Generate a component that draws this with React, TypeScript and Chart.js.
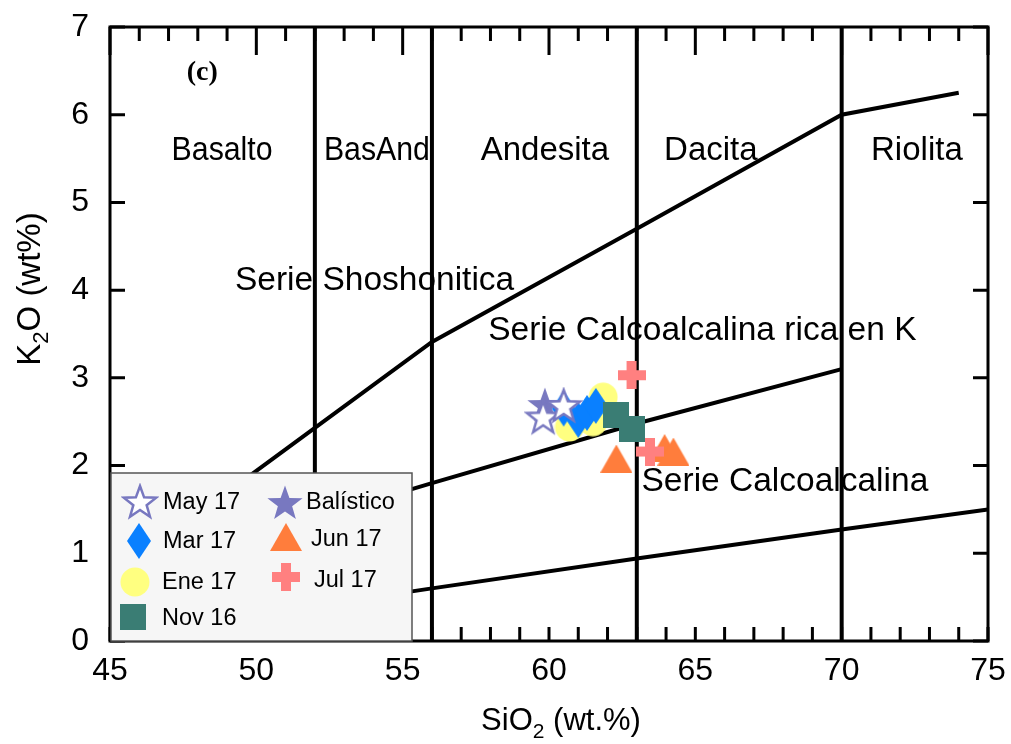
import React, { useEffect, useRef } from "react";
import { Chart, registerables } from "chart.js";

Chart.register(...registerables);

// ---------------- data ----------------
const seriesNames = ["May 17", "Mar 17", "Ene 17", "Nov 16", "Balístico", "Jun 17", "Jul 17"];

const may17SiO2 = [59.8, 60.5];
const may17K2O = [2.55, 2.68];
const mar17SiO2 = [60.5, 61.0, 61.3, 61.6];
const mar17K2O = [2.65, 2.52, 2.6, 2.68];
const ene17SiO2 = [61.85, 60.7, 61.5];
const ene17K2O = [2.78, 2.44, 2.5];
const nov16SiO2 = [62.3, 62.85];
const nov16K2O = [2.58, 2.42];
const balisticoSiO2 = [59.86];
const balisticoK2O = [2.69];
const jun17SiO2 = [62.3, 63.95, 64.25];
const jun17K2O = [2.08, 2.2, 2.16];
const jul17SiO2 = [62.82, 63.45];
const jul17K2O = [3.03, 2.16];

// classification boundaries
const shoshoniticSiO2 = [48, 52, 56, 63, 70, 74];
const shoshoniticK2O = [1.45, 2.43, 3.41, 4.7, 6.0, 6.25];
const highKSiO2 = [48, 52, 56, 63, 70];
const highKK2O = [1.0, 1.4, 1.8, 2.48, 3.1];
const calcAlkSiO2 = [48, 56, 63, 70, 75];
const calcAlkK2O = [0.2, 0.6, 0.94, 1.27, 1.5];
const divisionSiO2 = [52, 56, 63, 70];

// axes
const xMin = 45, xMax = 75, xStep = 5;
const yMin = 0, yMax = 7, yStep = 1;
const xTitleMain = "SiO";
const xTitleSub = "2";
const xTitleRest = " (wt.%)";
const yTitleMain = "K";
const yTitleSub = "2";
const yTitleRest = "O (wt%)";

// annotations
const regionLabels = ["Basalto", "BasAnd", "Andesita", "Dacita", "Riolita"];
const regionLabelSiO2 = [48.83, 54.12, 59.86, 65.53, 72.57];
const regionLabelMaxWidth = [101, 106, 200, 200, 200];
const regionLabelK2O = 5.59;
const seriesLabels = ["Serie Shoshonitica", "Serie Calcoalcalina rica en K", "Serie Calcoalcalina"];
const seriesLabelSiO2 = [54.04, 65.24, 68.06];
const seriesLabelK2O = [4.11, 3.535, 1.82];
const panelLabel = "(c)";
const panelLabelSiO2 = 48.15;
const panelLabelK2O = 6.48;

const FONT = "'Liberation Sans', Arial, Helvetica, sans-serif";

const pts = (xs: number[], ys: number[]) => xs.map((x, i) => ({ x, y: ys[i] }));

function makeCanvas(w: number, h: number, draw: (ctx: CanvasRenderingContext2D) => void) {
  const c = document.createElement("canvas");
  c.width = w;
  c.height = h;
  const ctx = c.getContext("2d")!;
  draw(ctx);
  return c;
}

function starPath(ctx: CanvasRenderingContext2D, cx: number, cy: number, R: number, r: number) {
  ctx.beginPath();
  for (let i = 0; i < 10; i++) {
    const a = -Math.PI / 2 + (i * Math.PI) / 5;
    const rad = i % 2 === 0 ? R : r;
    const px = cx + rad * Math.cos(a);
    const py = cy + rad * Math.sin(a);
    if (i === 0) ctx.moveTo(px, py);
    else ctx.lineTo(px, py);
  }
  ctx.closePath();
}

const PURPLE = "#7878c0";
const BLUE = "#0a80ff";
const YELLOW = "#ffff80";
const TEAL = "#3a7d74";
const ORANGE = "#ff7d3c";
const PINK = "#ff8080";

function makeMarkers() {
  const openStar = makeCanvas(38, 38, (ctx) => {
    starPath(ctx, 19, 20, 17, 7);
    ctx.fillStyle = "#ffffff";
    ctx.fill();
    ctx.strokeStyle = PURPLE;
    ctx.lineWidth = 2.5;
    ctx.stroke();
  });
  const diamond = makeCanvas(26, 38, (ctx) => {
    ctx.beginPath();
    ctx.moveTo(13, 1);
    ctx.lineTo(25, 19);
    ctx.lineTo(13, 37);
    ctx.lineTo(1, 19);
    ctx.closePath();
    ctx.fillStyle = BLUE;
    ctx.fill();
  });
  const circle = makeCanvas(30, 30, (ctx) => {
    ctx.beginPath();
    ctx.arc(15, 15, 14.5, 0, Math.PI * 2);
    ctx.fillStyle = YELLOW;
    ctx.fill();
  });
  const square = makeCanvas(26, 26, (ctx) => {
    ctx.fillStyle = TEAL;
    ctx.fillRect(0, 0, 26, 26);
  });
  const star = makeCanvas(38, 38, (ctx) => {
    starPath(ctx, 19, 20, 18.5, 7.5);
    ctx.fillStyle = PURPLE;
    ctx.fill();
  });
  const triangle = makeCanvas(32, 28, (ctx) => {
    ctx.beginPath();
    ctx.moveTo(16, 0);
    ctx.lineTo(32, 28);
    ctx.lineTo(0, 28);
    ctx.closePath();
    ctx.fillStyle = ORANGE;
    ctx.fill();
  });
  const plus = makeCanvas(28, 28, (ctx) => {
    ctx.fillStyle = PINK;
    ctx.fillRect(9, 0, 10, 28);
    ctx.fillRect(0, 9, 28, 10);
  });
  return [openStar, diamond, circle, square, star, triangle, plus];
}

// legend layout (relative to chart area left / bottom)
const legendBox = { dx: 1, dyTop: -168, w: 301, h: 168 };
const legendMarkerPos = [
  [30, -139], [29, -100], [25, -59], [23, -24],
  [175, -138], [176, -104], [176, -64],
];
const legendTextPos = [
  [53, -138], [53, -99], [52, -58], [52, -22],
  [196, -138], [201, -101], [204, -60],
];

const decorPlugin = {
  id: "decor",
  afterDatasetsDraw(chart: any) {
    const { ctx, chartArea: ca, scales } = chart;
    const xs = scales.x;
    const ys = scales.y;
    ctx.save();

    // frame
    ctx.strokeStyle = "#000";
    ctx.lineWidth = 3;
    ctx.strokeRect(ca.left, ca.top, ca.right - ca.left, ca.bottom - ca.top);

    // inward ticks
    ctx.lineWidth = 3;
    ctx.beginPath();
    for (let v = xMin; v <= xMax; v += 1) {
      const px = xs.getPixelForValue(v);
      const major = v % 5 === 0;
      const lenTop = major ? 28 : 14;
      const lenBot = 14;
      ctx.moveTo(px, ca.top);
      ctx.lineTo(px, ca.top + lenTop);
      ctx.moveTo(px, ca.bottom);
      ctx.lineTo(px, ca.bottom - lenBot);
    }
    for (let v = yMin; v <= yMax; v += 1) {
      const py = ys.getPixelForValue(v);
      ctx.moveTo(ca.left, py);
      ctx.lineTo(ca.left + 15, py);
      ctx.moveTo(ca.right, py);
      ctx.lineTo(ca.right - 15, py);
    }
    ctx.stroke();

    // region and series labels
    ctx.fillStyle = "#000";
    ctx.textAlign = "center";
    ctx.textBaseline = "middle";
    ctx.font = `33px ${FONT}`;
    regionLabels.forEach((t, i) => {
      ctx.fillText(
        t,
        xs.getPixelForValue(regionLabelSiO2[i]),
        ys.getPixelForValue(regionLabelK2O),
        regionLabelMaxWidth[i]
      );
    });
    ctx.font = `33.5px ${FONT}`;
    seriesLabels.forEach((t, i) => {
      ctx.fillText(t, xs.getPixelForValue(seriesLabelSiO2[i]), ys.getPixelForValue(seriesLabelK2O[i]));
    });
    ctx.font = "bold 28px 'Liberation Serif', 'Times New Roman', serif";
    ctx.fillText(panelLabel, xs.getPixelForValue(panelLabelSiO2), ys.getPixelForValue(panelLabelK2O));

    // legend
    const lx = ca.left + legendBox.dx;
    const ly = ca.bottom + legendBox.dyTop;
    ctx.fillStyle = "#f6f6f6";
    ctx.fillRect(lx, ly, legendBox.w, legendBox.h);
    ctx.strokeStyle = "#555";
    ctx.lineWidth = 1.5;
    ctx.strokeRect(lx, ly, legendBox.w, legendBox.h);
    ctx.textAlign = "left";
    ctx.font = `23.5px ${FONT}`;
    ctx.fillStyle = "#000";
    const dsets = chart.data.datasets.filter((d: any) => d.isSample);
    dsets.forEach((d: any) => {
      const i = seriesNames.indexOf(d.label);
      const img = d.pointStyle as HTMLCanvasElement;
      const mx = ca.left + legendMarkerPos[i][0];
      const my = ca.bottom + legendMarkerPos[i][1];
      ctx.drawImage(img, mx - img.width / 2, my - img.height / 2);
      ctx.fillText(d.label, ca.left + legendTextPos[i][0], ca.bottom + legendTextPos[i][1]);
    });

    ctx.restore();
  },
  afterDraw(chart: any) {
    const { ctx } = chart;
    ctx.save();
    ctx.fillStyle = "#000";
    ctx.textBaseline = "alphabetic";
    ctx.textAlign = "left";
    // x title
    let mainF = `31px ${FONT}`;
    let subF = `21px ${FONT}`;
    ctx.font = mainF;
    const w1 = ctx.measureText(xTitleMain).width;
    const w3 = ctx.measureText(xTitleRest).width;
    ctx.font = subF;
    const w2 = ctx.measureText(xTitleSub).width;
    const total = w1 + w2 + w3;
    let x = 561 - total / 2;
    const base = 730;
    ctx.font = mainF;
    ctx.fillText(xTitleMain, x, base);
    x += w1;
    ctx.font = subF;
    ctx.fillText(xTitleSub, x, base + 8);
    x += w2;
    ctx.font = mainF;
    ctx.fillText(xTitleRest, x, base);

    // y title
    mainF = `33px ${FONT}`;
    subF = `22px ${FONT}`;
    ctx.translate(40, 289);
    ctx.rotate(-Math.PI / 2);
    ctx.font = mainF;
    const v1 = ctx.measureText(yTitleMain).width;
    const v3 = ctx.measureText(yTitleRest).width;
    ctx.font = subF;
    const v2 = ctx.measureText(yTitleSub).width;
    let yx = -(v1 + v2 + v3) / 2;
    ctx.font = mainF;
    ctx.fillText(yTitleMain, yx, 0);
    yx += v1;
    ctx.font = subF;
    ctx.fillText(yTitleSub, yx, 8);
    yx += v2;
    ctx.font = mainF;
    ctx.fillText(yTitleRest, yx, 0);
    ctx.restore();
  },
};

export default function App() {
  const ref = useRef<HTMLCanvasElement>(null);

  useEffect(() => {
    if (!ref.current) return;
    const [openStar, diamond, circle, square, star, triangle, plus] = makeMarkers();

    const lineDs = (xs: number[], ys: number[]) => ({
      type: "scatter" as const,
      data: pts(xs, ys),
      showLine: true,
      borderColor: "#000",
      borderWidth: 4,
      pointRadius: 0,
      fill: false,
      order: 10,
      isSample: false,
    });

    const sample = (label: string, xs: number[], ys: number[], style: HTMLCanvasElement, order: number) => ({
      label,
      data: pts(xs, ys),
      pointStyle: style,
      pointRadius: 10,
      showLine: false,
      order,
      isSample: true,
    });

    const datasets: any[] = [
      ...divisionSiO2.map((v) => lineDs([v, v], [yMin, yMax])),
      lineDs(shoshoniticSiO2, shoshoniticK2O),
      lineDs(highKSiO2, highKK2O),
      lineDs(calcAlkSiO2, calcAlkK2O),
      sample(seriesNames[0], may17SiO2, may17K2O, openStar, 3),
      sample(seriesNames[1], mar17SiO2, mar17K2O, diamond, 5),
      sample(seriesNames[2], ene17SiO2, ene17K2O, circle, 6),
      sample(seriesNames[3], nov16SiO2, nov16K2O, square, 2),
      sample(seriesNames[4], balisticoSiO2, balisticoK2O, star, 4),
      sample(seriesNames[5], jun17SiO2, jun17K2O, triangle, 1),
      sample(seriesNames[6], jul17SiO2, jul17K2O, plus, 0),
    ];

    const chart = new Chart(ref.current, {
      type: "scatter",
      data: { datasets },
      options: {
        animation: false,
        responsive: false,
        events: [],
        layout: { padding: { left: 0, top: 27, right: 23, bottom: 0 } },
        plugins: {
          legend: { display: false },
          tooltip: { enabled: false },
          title: { display: false },
        },
        scales: {
          x: {
            type: "linear",
            min: xMin,
            max: xMax,
            grid: { display: false, drawTicks: false },
            border: { display: false },
            ticks: {
              stepSize: xStep,
              color: "#000",
              padding: 11,
              font: { size: 32, family: FONT },
              maxRotation: 0,
            },
            afterFit: (s: any) => {
              s.height = 103;
              s.paddingLeft = 0;
              s.paddingRight = 0;
            },
          },
          y: {
            type: "linear",
            min: yMin,
            max: yMax,
            grid: { display: false, drawTicks: false },
            border: { display: false },
            ticks: {
              stepSize: yStep,
              color: "#000",
              padding: 21,
              font: { size: 32, family: FONT },
            },
            afterFit: (s: any) => {
              s.width = 110;
              s.paddingTop = 0;
              s.paddingBottom = 0;
            },
          },
        },
      } as any,
      plugins: [decorPlugin],
    });
    return () => chart.destroy();
  }, []);

  return (
    <div style={{ position: "fixed", left: 0, top: 0, width: 1011, height: 744, background: "#fff" }}>
      <canvas ref={ref} width={1011} height={744} style={{ display: "block" }} />
    </div>
  );
}
